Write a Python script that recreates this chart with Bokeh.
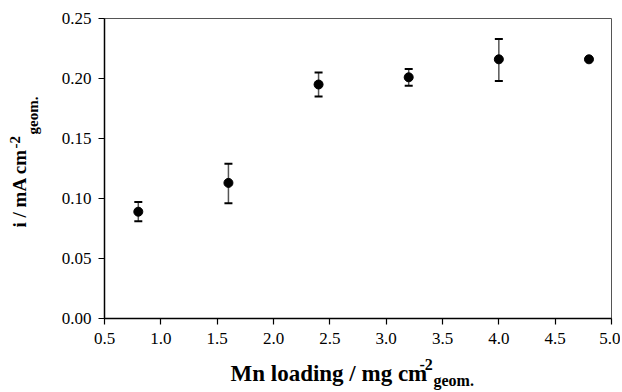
from bokeh.plotting import figure
from bokeh.models import ColumnDataSource, Whisker, TeeHead, Title, FixedTicker, NumeralTickFormatter, Range1d
from bokeh.embed import file_html
from bokeh.resources import INLINE

# data
loading = [0.8, 1.6, 2.4, 3.2, 4.0, 4.8]
current = [0.089, 0.113, 0.195, 0.201, 0.216, 0.216]
err_low = [0.081, 0.096, 0.185, 0.194, 0.198, float("nan")]
err_high = [0.097, 0.129, 0.205, 0.208, 0.233, float("nan")]
x_ticks = [0.5, 1.0, 1.5, 2.0, 2.5, 3.0, 3.5, 4.0, 4.5, 5.0]
y_ticks = [0.0, 0.05, 0.10, 0.15, 0.20, 0.25]
x_label = ["Mn loading / mg cm", "-2", "geom."]
y_label = ["i / mA cm", "-2", "geom."]

FONT = "Liberation Serif"
W, H = 620, 390
FL, FR, FT, FB = 104, 9, 18, 72

p = figure(width=W, height=H, output_backend="svg", toolbar_location=None,
           x_range=Range1d(0.5, 5.0), y_range=Range1d(0.0, 0.25),
           min_border_left=FL, min_border_right=FR, min_border_top=FT, min_border_bottom=FB)
p.grid.visible = False
p.outline_line_color = "#555555"
p.outline_line_width = 1
p.background_fill_color = "white"
p.border_fill_color = "white"

for ax in (p.xaxis[0], p.yaxis[0]):
    ax.axis_line_color = "black"
    ax.axis_line_width = 1.5
    ax.major_tick_line_color = "black"
    ax.major_tick_line_width = 1.2
    ax.major_tick_out = 6
    ax.major_tick_in = 0
    ax.minor_tick_line_color = None
    ax.major_label_text_font = FONT
    ax.major_label_text_font_size = "17px"
    ax.major_label_text_color = "black"
    # blank spacer label to push the composed titles outward
    ax.axis_label = " "
    ax.axis_label_text_font_size = "1px"

p.xaxis[0].axis_label_standoff = 4
p.yaxis[0].axis_label_standoff = 9

p.xaxis[0].ticker = FixedTicker(ticks=x_ticks)
p.xaxis[0].formatter = NumeralTickFormatter(format="0.0")
p.xaxis[0].major_label_standoff = 8
p.yaxis[0].ticker = FixedTicker(ticks=y_ticks)
p.yaxis[0].formatter = NumeralTickFormatter(format="0.00")
p.yaxis[0].major_label_standoff = 7

src = ColumnDataSource(dict(x=loading, y=current, lo=err_low, hi=err_high))
wh = Whisker(base="x", lower="lo", upper="hi", source=src,
             line_color="#555555", line_width=1.5,
             upper_head=TeeHead(size=8, line_color="black", line_width=2),
             lower_head=TeeHead(size=8, line_color="black", line_width=2))
p.add_layout(wh)
p.scatter("x", "y", source=src, size=9, color="black")

def ttl(text, size, offset, standoff):
    return Title(text=text, text_font=FONT, text_font_size=size, text_font_style="bold",
                 text_color="black", align="left", offset=offset, standoff=standoff)

# x label pieces, stacked outward: superscript, main, subscript
p.add_layout(ttl(x_label[1], "16px", 315, 5), "below")
p.add_layout(ttl(x_label[0], "23px", 126, -27), "below")
p.add_layout(ttl(x_label[2], "16px", 329, -6), "below")

# y label pieces, stacked outward: subscript, main, superscript
p.add_layout(ttl(y_label[2], "15px", 184, 9), "left")
p.add_layout(ttl(y_label[0], "19px", 91, -23), "left")
p.add_layout(ttl(y_label[1], "15px", 170, -2), "left")

open("out.html", "w").write(file_html(p, INLINE))
